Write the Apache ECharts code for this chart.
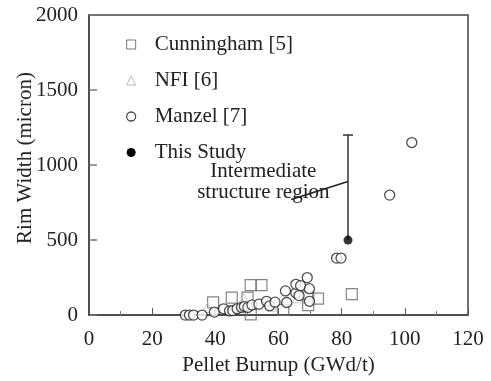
<!DOCTYPE html>
<html>
<head>
<meta charset="utf-8">
<script src="https://cdn.jsdelivr.net/npm/echarts@6/dist/echarts.min.js"></script>
<style>
  html, body { margin: 0; padding: 0; background: #fff; }
  #chart { width: 491px; height: 381px; }
</style>
</head>
<body>
<div id="chart"></div>
<script>
// Rim width versus pellet burnup
const cunninghamBurnup = [39.3, 45.2, 50.2, 51.2, 54.6, 51.2, 61.5, 69.4, 69.4, 72.5, 83.2];
const cunninghamRim    = [85, 117, 117, 200, 200, 5, 35, 119, 66, 110, 140];

const nfiBurnup = [37.5, 49, 58, 66];
const nfiRim    = [50, 110, 60, 115];

const manzelBurnup = [30.5, 31.8, 33.1, 35.8, 39.7, 42.6, 44.5, 45.5, 46.9, 48.3, 49.2, 50.3, 51.6, 53.8, 56.2, 57.2, 58.9, 62.2, 62.6, 65.5, 65.5, 66.5, 67, 69.1, 69.8, 69.8, 78.4, 79.8, 95.2, 102.2];
const manzelRim    = [0, 0, 0, 0, 20, 42, 28, 30, 42, 51, 57, 51, 68, 73, 92, 62, 86, 161, 84, 148, 205, 130, 196, 250, 176, 92, 380, 380, 800, 1150];

const studyBurnup = [82];
const studyRim    = [500];
const studyRimHigh = [1200];   // upper end of the intermediate structure region

const xTicks = [0, 20, 40, 60, 80, 100, 120];
const yTicks = [0, 500, 1000, 1500, 2000];

const zip = (xs, ys) => xs.map((x, i) => [x, ys[i]]);

const FONT = 'Liberation Serif';
const INK = '#222';

const chart = echarts.init(document.getElementById('chart'), null, { renderer: 'canvas' });

chart.setOption({
  animation: false,
  backgroundColor: '#fff',
  textStyle: { fontFamily: FONT, color: INK },
  grid: {
    left: 89, right: 23, top: 15, bottom: 64,
    show: true, borderColor: '#444', borderWidth: 1.5, backgroundColor: 'transparent'
  },
  xAxis: {
    type: 'value',
    min: xTicks[0], max: xTicks[xTicks.length - 1], interval: 20,
    name: 'Pellet Burnup (GWd/t)',
    nameLocation: 'middle', nameGap: 38,
    nameTextStyle: { fontFamily: FONT, fontSize: 21, color: INK },
    axisLine: { lineStyle: { color: '#444', width: 1.5 } },
    axisTick: { inside: true, length: 7, lineStyle: { color: '#555', width: 1 } },
    minorTick: { show: true, splitNumber: 2, length: 4, lineStyle: { color: '#777', width: 1 } },
    axisLabel: { fontFamily: FONT, fontSize: 21, color: INK, margin: 14 },
    splitLine: { show: false }
  },
  yAxis: {
    type: 'value',
    min: yTicks[0], max: yTicks[yTicks.length - 1], interval: 500,
    axisLine: { show: true, lineStyle: { color: '#444', width: 1.5 } },
    axisTick: { show: true, inside: true, length: 8, lineStyle: { color: '#777', width: 1.5 } },
    axisLabel: { fontFamily: FONT, fontSize: 21, color: INK, margin: 11, formatter: v => String(v) },
    splitLine: { show: false }
  },
  legend: {
    orient: 'vertical',
    left: 121, top: 29,
    itemWidth: 9, itemHeight: 9,
    itemGap: 15,
    textStyle: { fontFamily: FONT, fontSize: 21, color: INK, lineHeight: 21, padding: [0, 0, 0, 14] },
    data: [
      { name: 'Cunningham [5]', icon: 'rect', itemStyle: { color: '#fff', borderColor: '#555', borderWidth: 1 } },
      { name: 'NFI [6]', icon: 'triangle', itemStyle: { color: '#fff', borderColor: '#aaa', borderWidth: 1 } },
      { name: 'Manzel [7]', icon: 'circle', itemStyle: { color: '#fff', borderColor: '#222', borderWidth: 1.3 } },
      { name: 'This Study', icon: 'circle', itemStyle: { color: '#000', borderColor: '#000', borderWidth: 0 } }
    ]
  },
  graphic: [{
    type: 'text',
    x: 25, y: 158,
    rotation: Math.PI / 2,
    style: {
      text: 'Rim Width (micron)',
      font: '21px "Liberation Serif"',
      fill: INK,
      align: 'center',
      verticalAlign: 'middle'
    }
  }],
  series: [
    {
      name: 'Cunningham [5]',
      type: 'scatter',
      symbol: 'rect',
      symbolSize: 11,
      itemStyle: { color: 'rgba(255,255,255,0)', borderColor: '#666', borderWidth: 1.2 },
      data: zip(cunninghamBurnup, cunninghamRim),
      z: 2
    },
    {
      name: 'NFI [6]',
      type: 'scatter',
      symbol: 'triangle',
      symbolSize: 10,
      itemStyle: { color: 'rgba(255,255,255,0)', borderColor: '#bbb', borderWidth: 1 },
      data: zip(nfiBurnup, nfiRim),
      z: 2
    },
    {
      name: 'Manzel [7]',
      type: 'scatter',
      symbol: 'circle',
      symbolSize: 10,
      itemStyle: { color: '#fff', borderColor: '#222', borderWidth: 1.3 },
      data: zip(manzelBurnup, manzelRim),
      z: 3
    },
    {
      name: 'This Study',
      type: 'custom',
      renderItem: function (params, api) {
        const x = api.value(0);
        const lo = api.coord([x, api.value(1)]);
        const hi = api.coord([x, api.value(2)]);
        return {
          type: 'group',
          children: [
            { type: 'line', shape: { x1: lo[0], y1: lo[1], x2: hi[0], y2: hi[1] }, style: { stroke: '#333', lineWidth: 1.5 } },
            { type: 'line', shape: { x1: hi[0] - 5, y1: hi[1], x2: hi[0] + 5, y2: hi[1] }, style: { stroke: '#333', lineWidth: 1.5 } }
          ]
        };
      },
      data: studyBurnup.map((x, i) => [x, studyRim[i], studyRimHigh[i]]),
      z: 3
    },
    {
      name: 'This Study',
      type: 'scatter',
      symbol: 'circle',
      symbolSize: 9,
      itemStyle: { color: '#000' },
      data: zip(studyBurnup, studyRim),
      z: 4,
      markLine: {
        silent: true,
        symbol: 'none',
        lineStyle: { color: '#222', width: 1.5, type: 'solid' },
        label: { show: false },
        data: [[{ coord: [64, 770] }, { coord: [82, 890] }]]
      },
      markPoint: {
        silent: true,
        symbol: 'circle',
        symbolSize: 0,
        label: {
          show: true,
          formatter: 'Intermediate\nstructure region',
          fontFamily: FONT, fontSize: 21, color: INK,
          lineHeight: 21, align: 'center', verticalAlign: 'middle'
        },
        data: [{ coord: [55.2, 887] }]
      }
    }
  ]
});
</script>
</body>
</html>
